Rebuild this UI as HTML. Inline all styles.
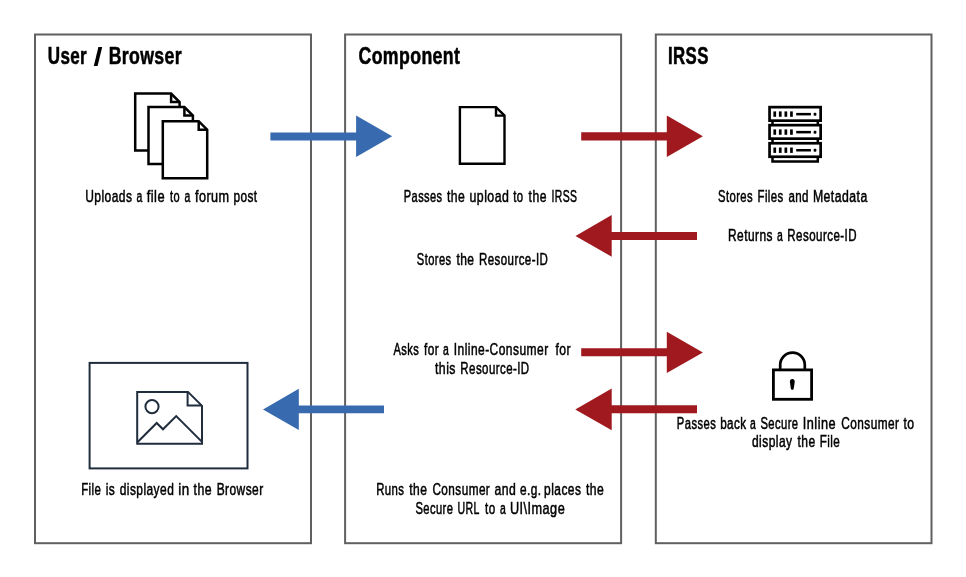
<!DOCTYPE html>
<html>
<head>
<meta charset="utf-8">
<title>IRSS Flow</title>
<style>
  html, body { margin: 0; padding: 0; background: #ffffff; }
  body { width: 966px; height: 577px; overflow: hidden; font-family: "Liberation Sans", sans-serif; }
  svg { display: block; will-change: transform; transform: translateZ(0); }
  text { font-family: "Liberation Sans", sans-serif; fill: #000; }
  .h { font-weight: bold; font-size: 23px; stroke: #000; stroke-width: 0.55px; letter-spacing: 0.5px; }
  .t { font-size: 15.8px; stroke: #000; stroke-width: 0.5px; letter-spacing: 0.6px; }
</style>
</head>
<body>
<svg width="966" height="577" viewBox="0 0 966 577">
  <rect x="0" y="0" width="966" height="577" fill="#ffffff"/>

  <!-- three column boxes -->
  <g fill="none" stroke="#606060" stroke-width="2">
    <rect x="35" y="34.5" width="276" height="508.7"/>
    <rect x="345.1" y="34.5" width="276" height="508.7"/>
    <rect x="655.8" y="34.5" width="275.7" height="508.7"/>
  </g>

  <path d="M98.4 46.9H102.2L97.6 66H93.8Z" fill="#000000"/>

  <!-- arrows -->
  <g fill="#386ab0">
    <path d="M270.4 132.4H356.1V115.4L392.2 136.2L356.1 156.9V140.4H270.4Z"/>
    <path d="M384 405.4H298.8V388.8L263 409.4L298.8 430V413.3H384Z"/>
  </g>
  <g fill="#9f191e">
    <path d="M581.2 132.2H666.8V115.4L702.9 136.2L666.8 156.9V140.4H581.2Z"/>
    <path d="M697 232H611.7V215.1L575.5 235.9L611.7 256.7V240H697Z"/>
    <path d="M581.2 348.2H666.8V331.8L702.9 352.4L666.8 373.1V356.3H581.2Z"/>
    <path d="M697 405.3H611.7V388.6L575.3 409.4L611.7 430.3V413.3H697Z"/>
  </g>

  <!-- multi file icon -->
  <g fill="#ffffff" stroke="#000000" stroke-width="2.5" stroke-linejoin="miter">
    <g transform="translate(135.2 93.5)">
      <path d="M0 0H35.9L44.4 8.5V57H0Z"/>
      <path d="M35.9 0V8.5H44.4" fill="none"/>
    </g>
    <g transform="translate(148.5 107)">
      <path d="M0 0H35.9L44.4 8.5V57H0Z"/>
      <path d="M35.9 0V8.5H44.4" fill="none"/>
    </g>
    <g transform="translate(162.8 121.2)">
      <path d="M0 0H35.9L44.4 8.5V57H0Z"/>
      <path d="M35.9 0V8.5H44.4" fill="none"/>
    </g>
  </g>

  <!-- single file icon -->
  <g fill="#ffffff" stroke="#000000" stroke-width="2.4" stroke-linejoin="miter" transform="translate(459.9 107.1)">
    <path d="M0 0H36.1L44.6 8.5V56.7H0Z"/>
    <path d="M36.1 0V8.5H44.6" fill="none"/>
  </g>

  <!-- server icon -->
  <g stroke="#000000" stroke-width="2.5" fill="#ffffff">
    <rect x="772.5" y="110" width="45.3" height="51.5"/>
    <rect x="769.55" y="107.15" width="51.1" height="13.5" stroke-width="2.7"/>
    <rect x="769.55" y="125.15" width="51.1" height="13.5" stroke-width="2.7"/>
    <rect x="769.55" y="143.25" width="51.1" height="13.5" stroke-width="2.7"/>
  </g>
  <g fill="#000000">
    <g>
      <rect x="773.4" y="111.4" width="2.7" height="5.4"/>
      <rect x="778.9" y="111.4" width="2.7" height="5.4"/>
      <rect x="784.5" y="111.4" width="2.7" height="5.4"/>
      <rect x="790.1" y="111.4" width="2.7" height="5.4"/>
      <rect x="796.2" y="112.9" width="14.7" height="2.5"/>
      <rect x="813.6" y="112.7" width="2.8" height="3" rx="1"/>
    </g>
    <g transform="translate(0 18)">
      <rect x="773.4" y="111.4" width="2.7" height="5.4"/>
      <rect x="778.9" y="111.4" width="2.7" height="5.4"/>
      <rect x="784.5" y="111.4" width="2.7" height="5.4"/>
      <rect x="790.1" y="111.4" width="2.7" height="5.4"/>
      <rect x="796.2" y="112.9" width="14.7" height="2.5"/>
      <rect x="813.6" y="112.7" width="2.8" height="3" rx="1"/>
    </g>
    <g transform="translate(0 36.1)">
      <rect x="773.4" y="111.4" width="2.7" height="5.4"/>
      <rect x="778.9" y="111.4" width="2.7" height="5.4"/>
      <rect x="784.5" y="111.4" width="2.7" height="5.4"/>
      <rect x="790.1" y="111.4" width="2.7" height="5.4"/>
      <rect x="796.2" y="112.9" width="14.7" height="2.5"/>
      <rect x="813.6" y="112.7" width="2.8" height="3" rx="1"/>
    </g>
  </g>

  <!-- lock icon -->
  <g fill="none" stroke="#000000" stroke-width="2.5">
    <path d="M780.2 369.5V365A12.3 12.3 0 0 1 804.8 365V369.5" stroke-width="2.7"/>
    <rect x="773.4" y="369.9" width="38.2" height="29.4" fill="#ffffff" stroke-width="2.8"/>
  </g>
  <path d="M792.3 379.1C794 379.1 794.8 380.4 794.7 382L793.8 388.2C793.6 389.4 793.1 389.8 792.3 389.8C791.5 389.8 791 389.4 790.8 388.2L789.9 382C789.8 380.4 790.6 379.1 792.3 379.1Z" fill="#000000"/>

  <!-- image icon -->
  <g fill="none" stroke="#202d3d" stroke-width="2" stroke-linejoin="miter">
    <rect x="89.6" y="362.9" width="157.9" height="105.5" fill="#ffffff"/>
    <path d="M137.2 391.9H188L202 405.9V443.7H137.2Z"/>
    <path d="M187.6 391.9V405.6H202"/>
    <circle cx="152" cy="406.6" r="6.6"/>
    <path d="M137.2 442.5L156.7 423L163 429.3L176.2 416.1L202 441.9"/>
  </g>

  <!-- text (per-word fitted) -->
  <text class="h" transform="translate(47.76 64.0) scale(0.7389 1)">User</text>
  <text class="h" transform="translate(108.64 64.0) scale(0.7693 1)">Browser</text>
  <text class="h" transform="translate(358.51 64.0) scale(0.7697 1)">Component</text>
  <text class="h" transform="translate(668.07 64.0) scale(0.7299 1)">IRSS</text>
  <text class="t" transform="translate(85.13 201.7) scale(0.7619 1)">Uploads</text>
  <text class="t" transform="translate(136.38 201.7) scale(0.6600 1)">a</text>
  <text class="t" transform="translate(146.70 201.7) scale(0.8147 1)">file</text>
  <text class="t" transform="translate(169.97 201.7) scale(0.6971 1)">to</text>
  <text class="t" transform="translate(184.38 201.7) scale(0.6600 1)">a</text>
  <text class="t" transform="translate(194.90 201.7) scale(0.8001 1)">forum</text>
  <text class="t" transform="translate(233.44 201.7) scale(0.7491 1)">post</text>
  <text class="t" transform="translate(403.77 201.7) scale(0.7003 1)">Passes</text>
  <text class="t" transform="translate(446.99 201.7) scale(0.7707 1)">the</text>
  <text class="t" transform="translate(469.51 201.7) scale(0.7813 1)">upload</text>
  <text class="t" transform="translate(513.28 201.7) scale(0.7178 1)">to</text>
  <text class="t" transform="translate(528.59 201.7) scale(0.7707 1)">the</text>
  <text class="t" transform="translate(551.49 201.7) scale(0.6600 1)">IRSS</text>
  <text class="t" transform="translate(717.98 201.7) scale(0.7126 1)">Stores</text>
  <text class="t" transform="translate(757.46 201.7) scale(0.7241 1)">Files</text>
  <text class="t" transform="translate(788.38 201.7) scale(0.7297 1)">and</text>
  <text class="t" transform="translate(812.92 201.7) scale(0.7767 1)">Metadata</text>
  <text class="t" transform="translate(728.03 240.7) scale(0.7554 1)">Returns</text>
  <text class="t" transform="translate(777.08 240.7) scale(0.6600 1)">a</text>
  <text class="t" transform="translate(787.35 240.7) scale(0.7306 1)">Resource-ID</text>
  <text class="t" transform="translate(416.78 264.7) scale(0.7065 1)">Stores</text>
  <text class="t" transform="translate(456.39 264.7) scale(0.7623 1)">the</text>
  <text class="t" transform="translate(478.95 264.7) scale(0.7285 1)">Resource-ID</text>
  <text class="t" transform="translate(393.48 355.1) scale(0.7043 1)">Asks</text>
  <text class="t" transform="translate(423.99 355.1) scale(0.7497 1)">for</text>
  <text class="t" transform="translate(442.88 355.1) scale(0.6600 1)">a</text>
  <text class="t" transform="translate(453.73 355.1) scale(0.7609 1)">Inline-Consumer</text>
  <text class="t" transform="translate(555.39 355.1) scale(0.7698 1)">for</text>
  <text class="t" transform="translate(434.99 373.8) scale(0.7782 1)">this</text>
  <text class="t" transform="translate(460.35 373.8) scale(0.7274 1)">Resource-ID</text>
  <text class="t" transform="translate(676.87 428.5) scale(0.7113 1)">Passes</text>
  <text class="t" transform="translate(720.15 428.5) scale(0.7392 1)">back</text>
  <text class="t" transform="translate(749.93 428.5) scale(0.6600 1)">a</text>
  <text class="t" transform="translate(760.38 428.5) scale(0.7105 1)">Secure</text>
  <text class="t" transform="translate(802.80 428.5) scale(0.8054 1)">Inline</text>
  <text class="t" transform="translate(841.29 428.5) scale(0.7490 1)">Consumer</text>
  <text class="t" transform="translate(903.49 428.5) scale(0.7730 1)">to</text>
  <text class="t" transform="translate(751.89 447.4) scale(0.7625 1)">display</text>
  <text class="t" transform="translate(797.49 447.4) scale(0.7623 1)">the</text>
  <text class="t" transform="translate(819.75 447.4) scale(0.7379 1)">File</text>
  <text class="t" transform="translate(376.16 494.6) scale(0.7210 1)">Runs</text>
  <text class="t" transform="translate(409.19 494.6) scale(0.7623 1)">the</text>
  <text class="t" transform="translate(432.39 494.6) scale(0.7451 1)">Consumer</text>
  <text class="t" transform="translate(494.39 494.6) scale(0.7737 1)">and</text>
  <text class="t" transform="translate(519.89 494.6) scale(0.7520 1)">e.g.</text>
  <text class="t" transform="translate(544.03 494.6) scale(0.7583 1)">places</text>
  <text class="t" transform="translate(585.89 494.6) scale(0.7707 1)">the</text>
  <text class="t" transform="translate(415.38 513.7) scale(0.7086 1)">Secure</text>
  <text class="t" transform="translate(457.50 513.7) scale(0.6674 1)">URL</text>
  <text class="t" transform="translate(485.08 513.7) scale(0.7385 1)">to</text>
  <text class="t" transform="translate(500.08 513.7) scale(0.6600 1)">a</text>
  <text class="t" transform="translate(509.90 513.7) scale(0.8029 1)">UI\Image</text>
  <text class="t" transform="translate(81.16 494.8) scale(0.7231 1)">File</text>
  <text class="t" transform="translate(105.73 494.8) scale(0.7580 1)">is</text>
  <text class="t" transform="translate(119.69 494.8) scale(0.7564 1)">displayed</text>
  <text class="t" transform="translate(178.27 494.8) scale(0.8441 1)">in</text>
  <text class="t" transform="translate(193.59 494.8) scale(0.7791 1)">the</text>
  <text class="t" transform="translate(216.63 494.8) scale(0.7569 1)">Browser</text>
</svg>
</body>
</html>
